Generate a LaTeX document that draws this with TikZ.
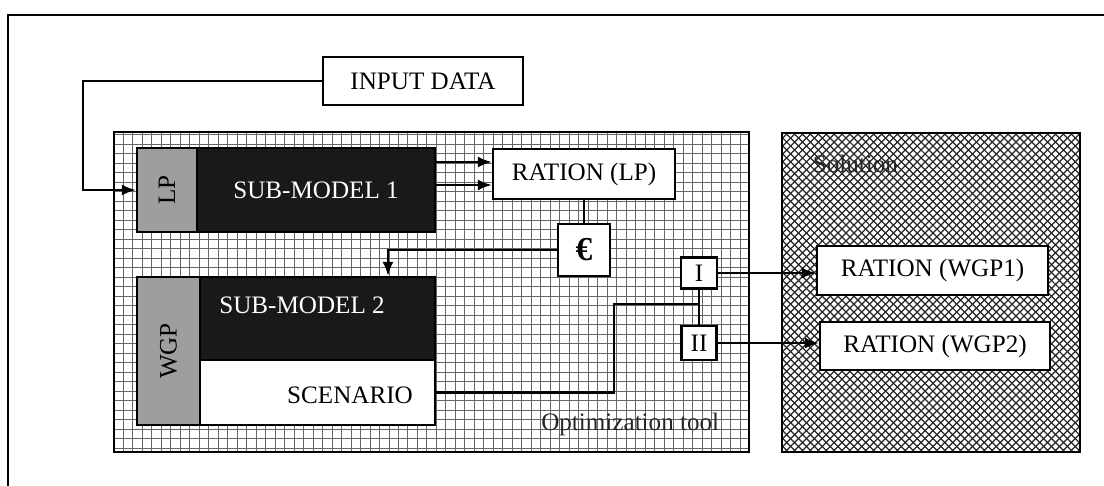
\documentclass[tikz,border=0pt]{standalone}
\usepackage{fontspec}
\setmainfont{Liberation Serif}
\usetikzlibrary{arrows.meta,patterns}

\pgfdeclarepatternformonly{optgrid}{\pgfqpoint{-0.5pt}{-0.5pt}}{\pgfqpoint{5.9pt}{5.9pt}}{\pgfqpoint{5.4pt}{5.4pt}}{%
  \pgfsetlinewidth{0.55pt}%
  \pgfpathmoveto{\pgfqpoint{0pt}{0pt}}\pgfpathlineto{\pgfqpoint{5.4pt}{0pt}}%
  \pgfpathmoveto{\pgfqpoint{0pt}{0pt}}\pgfpathlineto{\pgfqpoint{0pt}{5.4pt}}%
  \pgfusepath{stroke}}
\pgfdeclarepatternformonly{solhatch}{\pgfqpoint{-0.5pt}{-0.5pt}}{\pgfqpoint{5pt}{5pt}}{\pgfqpoint{4.5pt}{4.5pt}}{%
  \pgfsetlinewidth{0.7pt}%
  \pgfpathmoveto{\pgfqpoint{0pt}{0pt}}\pgfpathlineto{\pgfqpoint{4.5pt}{4.5pt}}%
  \pgfpathmoveto{\pgfqpoint{0pt}{4.5pt}}\pgfpathlineto{\pgfqpoint{4.5pt}{0pt}}%
  \pgfusepath{stroke}}

\begin{document}
\begin{tikzpicture}[x=0.02cm,y=-0.02cm,line width=1.3pt,
    every node/.style={font=\fontsize{14.3}{17}\selectfont},
    box/.style={draw,fill=white,inner sep=0pt},
    tagbox/.style={draw,fill=black!38,inner sep=0pt},
    darkbox/.style={draw,fill=black!90,text=white,inner sep=0pt},
    region/.style={draw,inner sep=0pt},
    arr/.style={-{Latex[length=0.28cm,width=0.22cm]}}]
\useasboundingbox (0,0) rectangle (1104,486);
\draw (8,486) -- (8,15) -- (1104,15);
% regions
\node[region,pattern=optgrid,pattern color=black!60,minimum width=12.7cm,minimum height=6.4cm] (opt) at (431.5,292) {};
\node[region,pattern=solhatch,pattern color=black!85,minimum width=5.96cm,minimum height=6.38cm] (sol) at (931,292.5) {};
\node[anchor=south east,text=black!85,inner sep=1pt] (optlbl) at ([xshift=-0.56cm,yshift=0.28cm]opt.south east) {Optimization tool};
\node[anchor=north west,text=black!85,inner sep=1pt] (sollbl) at ([xshift=0.58cm,yshift=-0.4cm]sol.north west) {Solution};
% boxes
\node[box,minimum width=4cm,minimum height=0.96cm] (input) at (423,81) {INPUT DATA};
\node[tagbox,minimum width=1.2cm,minimum height=1.68cm] (lp) at (167,190) {\rotatebox{90}{LP}};
\node[darkbox,minimum width=4.76cm,minimum height=1.68cm] (sub1) at (316,190) {SUB-MODEL 1};
\node[box,minimum width=3.64cm,minimum height=1cm] (ratlp) at (584,174) {RATION (LP)};
\node[box,minimum width=1.04cm,minimum height=1.04cm,font=\fontsize{19}{20}\selectfont\bfseries] (euro) at (584,250) {€};
\node[tagbox,minimum width=1.26cm,minimum height=2.96cm] (wgp) at (168.5,351) {\rotatebox{90}{WGP}};
\node[darkbox,minimum width=4.7cm,minimum height=1.66cm] (sub2) at (317.5,318.5) {};
\node[text=white] (sub2txt) at ([xshift=-0.31cm,yshift=0.27cm]sub2.center) {SUB-MODEL 2};
\node[box,minimum width=4.7cm,minimum height=1.3cm] (scen) at (317.5,392.5) {};
\node (scentxt) at ([xshift=0.65cm,yshift=-0.05cm]scen.center) {SCENARIO};
\node[box,minimum width=0.72cm,minimum height=0.62cm] (I) at (699,273) {I};
\node[box,minimum width=0.7cm,minimum height=0.68cm] (II) at (699,343) {II};
\node[box,minimum width=4.62cm,minimum height=0.98cm] (wgp1) at (932.5,270.5) {RATION (WGP1)};
\node[box,minimum width=4.6cm,minimum height=0.96cm] (wgp2) at (935,346) {RATION (WGP2)};
% connectors
\coordinate (fbk) at (83,150);
\draw[arr] (input.west) -| (fbk) |- (lp.west);
\draw[arr] ([yshift=0.56cm]sub1.east) -- ([yshift=0.56cm]sub1.east -| ratlp.west);
\draw[arr] ([yshift=0.1cm]sub1.east) -- ([yshift=0.1cm]sub1.east -| ratlp.west);
\draw (ratlp) -- (euro);
\coordinate (drop) at ([xshift=1.41cm]sub2.north);
\draw[arr] (euro.west) -| (drop);
\coordinate (bend) at (614,304);
\draw (scen.east) -| (bend) -- (bend -| I.south);
\draw (I) -- (II);
\draw[arr] (I.east) -- (I.east -| wgp1.west);
\draw[arr] (II.east) -- (II.east -| wgp2.west);
\end{tikzpicture}
\end{document}
